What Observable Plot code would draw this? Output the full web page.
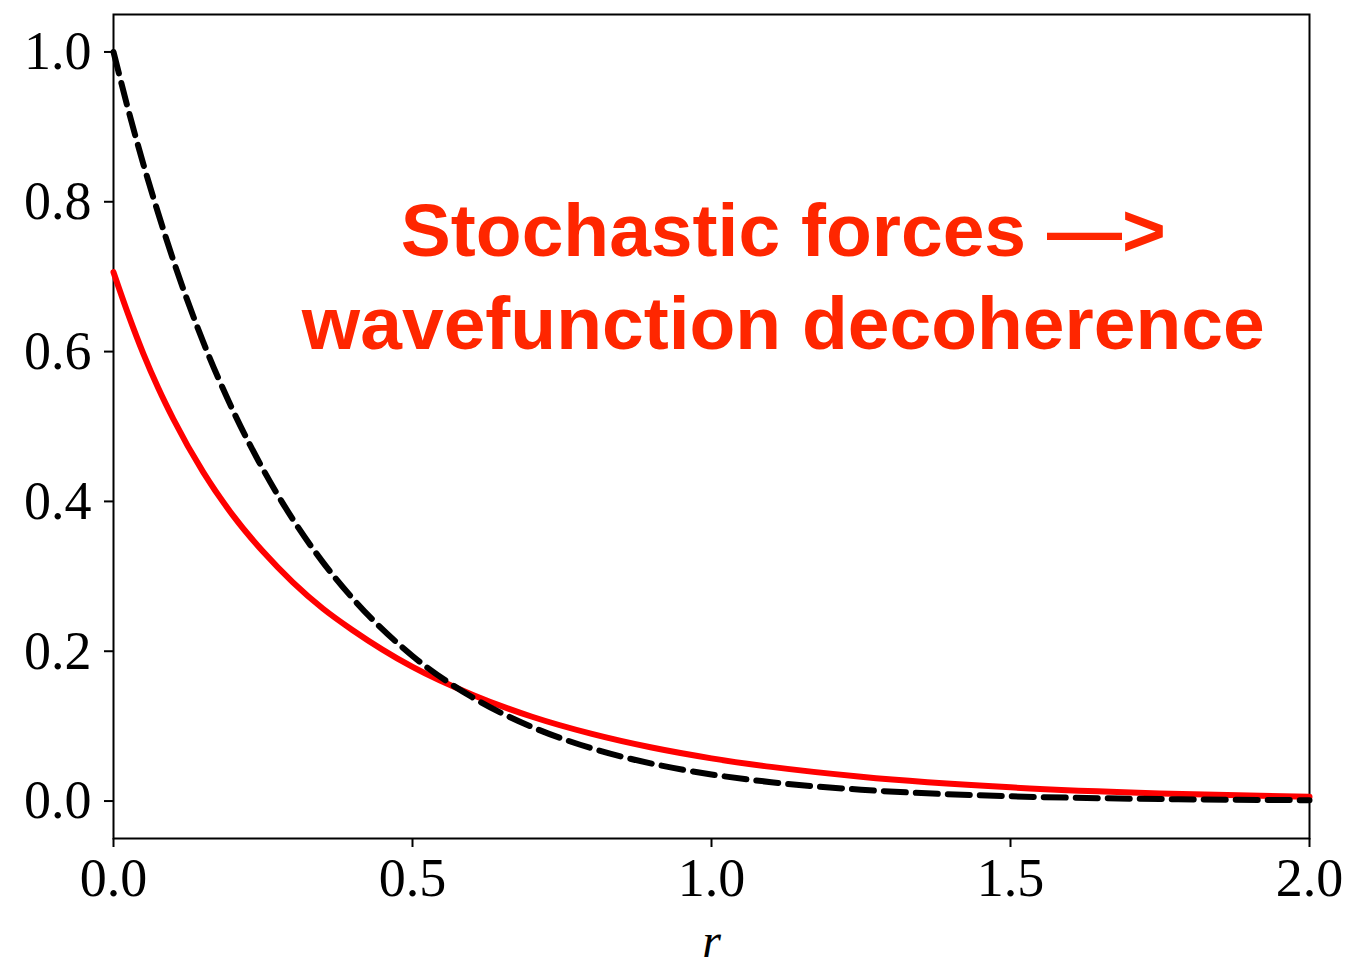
<!DOCTYPE html>
<html>
<head>
<meta charset="utf-8">
<script src="https://cdn.jsdelivr.net/npm/d3@7"></script>
<script src="https://cdn.jsdelivr.net/npm/@observablehq/plot@0.6"></script>
<style>
  html, body { margin: 0; padding: 0; background: #fff; }
  svg { overflow: visible; }
</style>
</head>
<body>
<div id="chart"></div>
<script>
// Sampled radius values (x)
const rValues = [0, 0.025, 0.05, 0.075, 0.1, 0.15, 0.2, 0.25, 0.3, 0.35, 0.4, 0.5, 0.6, 0.7, 0.8, 0.9, 1.0, 1.1, 1.25, 1.5, 1.75, 2.0];
// Black dashed curve values
const dashedValues = [1.0, 0.922, 0.85, 0.784, 0.722, 0.613, 0.521, 0.443, 0.376, 0.319, 0.2705, 0.1937, 0.1385, 0.0988, 0.0703, 0.050, 0.0355, 0.0252, 0.0151, 0.0064, 0.0027, 0.00115];
// Red solid curve values
const redValues = [0.706, 0.649, 0.597, 0.551, 0.510, 0.439, 0.381, 0.333, 0.292, 0.257, 0.228, 0.179, 0.142, 0.1125, 0.0896, 0.0714, 0.057, 0.0456, 0.0325, 0.0183, 0.0102, 0.0056];
// Tick values
const xTicks = [0, 0.5, 1.0, 1.5, 2.0];
const yTicks = [0, 0.2, 0.4, 0.6, 0.8, 1.0];
// Annotation lines (data coordinates of baselines)
const annotationLines = ["Stochastic forces \u2014>", "wavefunction decoherence"];
const annotationX = [1.12, 1.12];
const annotationY = [0.727, 0.603];
const xLabel = "r";

const rows = rValues.map((r, i) => ({r, dashed: dashedValues[i], red: redValues[i]}));
const notes = annotationLines.map((t, i) => ({t, x: annotationX[i], y: annotationY[i]}));

const chart = Plot.plot({
  width: 1347,
  height: 967,
  marginLeft: 113,
  marginRight: 38,
  marginTop: 14,
  marginBottom: 129,
  style: {fontFamily: "'Liberation Serif', 'DejaVu Serif', serif", fontSize: "54px", color: "#000", background: "#fff"},
  x: {domain: [0, 2]},
  y: {domain: [-0.05, 1.05]},
  marks: [
    Plot.frame({stroke: "#000", strokeWidth: 2}),
    Plot.axisX({ticks: xTicks, tickFormat: d3.format(".1f"), tickSize: 9, tickPadding: 10, strokeWidth: 2, fontSize: 54, label: null}),
    Plot.axisY({ticks: yTicks, tickFormat: d3.format(".1f"), tickSize: 9, tickPadding: 13, strokeWidth: 2, fontSize: 54, label: null}),
    Plot.line(rows, {x: "r", y: "red", stroke: "#ff0000", strokeWidth: 6, curve: "monotone-x"}),
    Plot.line(rows, {x: "r", y: "dashed", stroke: "#000", strokeWidth: 6, strokeDasharray: "22,10", curve: "monotone-x"}),
    Plot.text(notes, {x: "x", y: "y", text: "t", fill: "#ff2600", fontSize: 75, fontWeight: "bold",
      fontFamily: "'Liberation Sans', Arial, sans-serif", textAnchor: "middle", lineAnchor: "bottom"}),
    Plot.text([xLabel], {frameAnchor: "bottom", dy: 118, text: d => d, fontSize: 48, fontStyle: "italic",
      fontFamily: "'Liberation Serif', 'DejaVu Serif', serif", lineAnchor: "bottom", fill: "#000"})
  ]
});
document.getElementById("chart").appendChild(chart);
</script>
</body>
</html>
